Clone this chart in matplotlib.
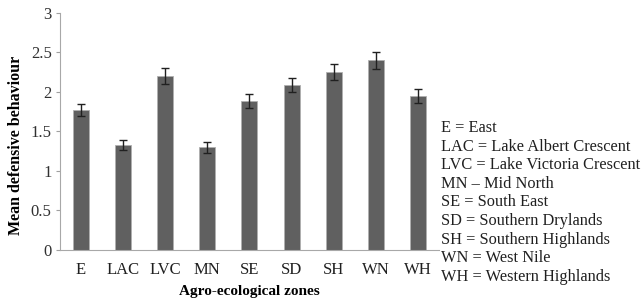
import matplotlib.pyplot as plt

# Data
zones = ['E', 'LAC', 'LVC', 'MN', 'SE', 'SD', 'SH', 'WN', 'WH']
means = [1.77, 1.33, 2.20, 1.30, 1.89, 2.09, 2.25, 2.40, 1.95]
errors = [0.08, 0.06, 0.10, 0.07, 0.09, 0.09, 0.10, 0.11, 0.09]
key_lines = ['E = East', 'LAC = Lake Albert Crescent', 'LVC = Lake Victoria Crescent',
             'MN \u2013 Mid North', 'SE = South East', 'SD = Southern Drylands',
             'SH = Southern Highlands', 'WN = West Nile', 'WH = Western Highlands']

plt.rcParams['font.family'] = ['Liberation Serif', 'DejaVu Serif']

fig = plt.figure(figsize=(6.41, 3.0), dpi=100)
ax = fig.add_axes([0.0936, 0.1667, 0.591, 0.79])

x = range(len(zones))
ax.bar(x, means, width=0.38, color='#606060', edgecolor='#b0b0b0', linewidth=0.6,
       yerr=errors, capsize=3, error_kw=dict(ecolor='#202020', elinewidth=1, capthick=1))

ax.set_xlim(-0.5, len(zones) - 0.5)
ax.set_ylim(0, 3)
ax.set_yticks([0, 0.5, 1, 1.5, 2, 2.5, 3])
ax.set_yticklabels(['0', '0.5', '1', '1.5', '2', '2.5', '3'], fontsize=12, color='#303030')
ax.set_xticks(list(x))
ax.set_xticklabels(zones, fontsize=12, color='#202020')
ax.tick_params(axis='x', length=0, pad=9)
ax.tick_params(axis='y', length=3, color='#a0a0a0', pad=3)

for s in ['top', 'right']:
    ax.spines[s].set_visible(False)
for s in ['left', 'bottom']:
    ax.spines[s].set_color('#a8a8a8')

ax.set_ylabel('Mean defensive behaviour', fontsize=11.5, fontweight='bold')
ax.yaxis.set_label_coords(-0.095, 0.44)
ax.set_xlabel('Agro-ecological zones', fontsize=11, fontweight='bold', labelpad=5)

for i, line in enumerate(key_lines):
    fig.text(0.688, 1 - (128 + i * 18.6) / 300, line, fontsize=11.8, color='#202020',
             va='center', ha='left')

fig.savefig('out.png', dpi=100)
